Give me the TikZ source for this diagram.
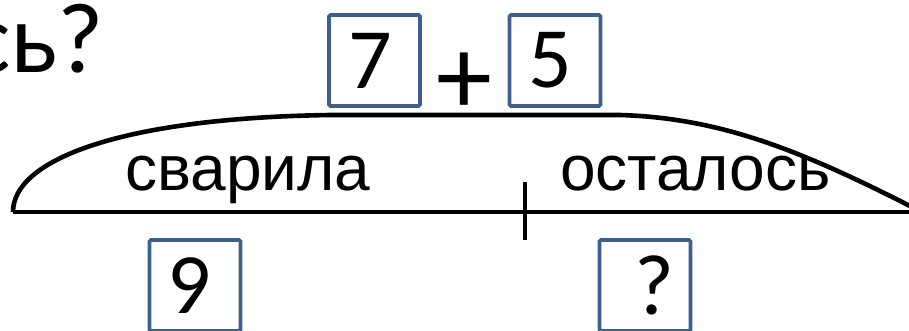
\documentclass[tikz,border=0pt]{standalone}
\usepackage{fontspec}
\setmainfont{Liberation Sans}
\newfontfamily\calibrifont{Carlito}
\definecolor{boxblue}{RGB}{60,95,140}
\begin{document}
\begin{tikzpicture}[x=1pt,y=-1pt,
  numbox/.style={draw=boxblue,line width=3.8pt,rounded corners=1.5pt,minimum size=91pt,inner sep=0pt,font=\calibrifont\fontsize{86}{86}\selectfont},
  lbl/.style={inner sep=0pt,anchor=base west,font=\fontsize{64}{64}\selectfont},
  thick line/.style={line width=4.6pt}]
\useasboundingbox (0,0) rectangle (909,330);
\clip (0,0) rectangle (909,330);
\node[inner sep=0pt,anchor=base east,font=\calibrifont\fontsize{100}{100}\selectfont] (q) at (104,72) {сь?};
\node[numbox] (b7) at (374.5,60.5) {\hspace*{-8pt}7};
\node[numbox] (b5) at (555,60.5) {\hspace*{-10pt}5};
\node[inner sep=0pt,font=\calibrifont\fontsize{112}{112}\selectfont] (plus) at (464,84) {+};
\node[numbox] (b9) at (195,285.5) {\hspace*{-12pt}9};
\node[numbox] (bq) at (645,285.5) {?\hspace*{-18pt}};
\coordinate (L) at (13,212);
\coordinate (R) at (909,212);
\coordinate (Rt) at (912,207);
\coordinate (T1) at (525,182);
\coordinate (T2) at (525,240);
\draw[thick line] (L) -- (R);
\draw[thick line] (T1) -- (T2);
\draw[thick line] (L) .. controls (13,160) and (120,118) .. (330,115)
   -- (620,115) .. controls (720,118) and (800,150) .. (Rt);
\node[lbl] (s1) at (125,190) {сварила};
\node[lbl] (s2) at (560,190) {осталось};
\end{tikzpicture}
\end{document}
